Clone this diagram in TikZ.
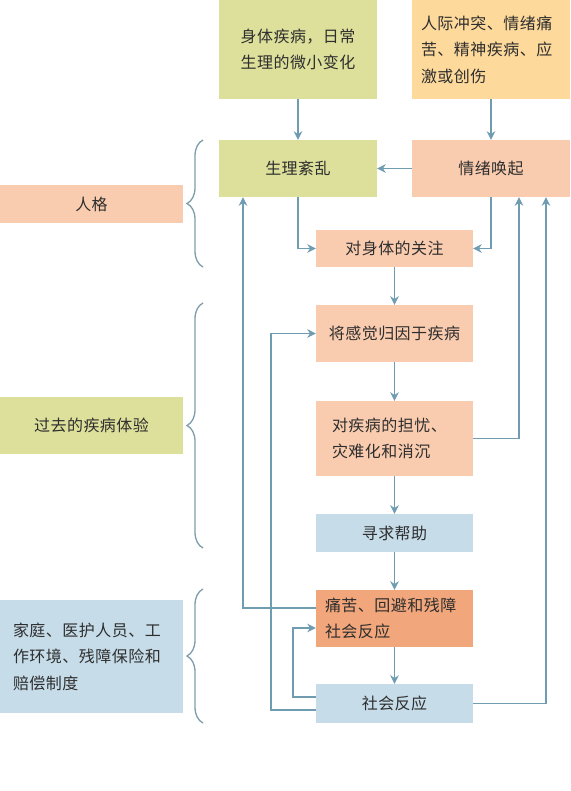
\documentclass[tikz,border=0pt]{standalone}
\usepackage{fontspec}
\setmainfont{Noto Sans CJK SC}[LetterSpace=3]
\usetikzlibrary{arrows.meta,calc,decorations.pathreplacing}
\definecolor{cgreen}{HTML}{DDE09B}
\definecolor{cyellow}{HTML}{FDD99C}
\definecolor{csalmon}{HTML}{F9CCAF}
\definecolor{corange}{HTML}{F2A67B}
\definecolor{cblue}{HTML}{C6DCE9}
\definecolor{cline}{HTML}{6F9CB0}
\definecolor{cbrace}{HTML}{7E9DAB}
\definecolor{ctext}{HTML}{2E2E2E}
\begin{document}
\begin{tikzpicture}[x=1pt,y=-1pt,
  box/.style={draw=none,inner sep=0pt,font=\fontsize{16}{26.5}\selectfont,text=ctext,align=center},
  midbox/.style={box,minimum width=157,minimum height=#1},
  leftbox/.style={box,minimum width=183,minimum height=#1},
  arr/.style={draw=cline,line width=1.7pt,-{Stealth[length=8.5pt,width=8.5pt]}},
  bracestyle/.style={draw=cbrace,line width=1.3pt,decorate,decoration={brace,amplitude=16pt}}
]
\fill[white] (0,0) rectangle (570,791);
\useasboundingbox (0,0) rectangle (570,791);

% top boxes
\node[box,fill=cgreen,minimum width=158,minimum height=99] (A) at (298,49.5) {身体疾病，日常\\生理的微小变化};
\node[box,fill=cyellow,text width=140,inner xsep=9,minimum height=99,align=left] (B) at (491,49.5) {\raisebox{-3pt}{\parbox{140pt}{人际冲突、情绪痛\\苦、精神疾病、应\\激或创伤}}};

\node[box,fill=cgreen,minimum width=158,minimum height=57] (C) at (298,168.5) {生理紊乱};
\node[box,fill=csalmon,minimum width=158,minimum height=57] (D) at (491,168.5) {情绪唤起};

% middle column
\node[midbox=37,fill=csalmon] (E) at (394.5,248.5) {对身体的关注};
\node[midbox=57,fill=csalmon] (F) at (394.5,333.5) {将感觉归因于疾病};
\node[box,fill=csalmon,text width=125,inner xsep=16,minimum height=75,align=left] (G) at (394.5,438.5) {对疾病的担忧、\\灾难化和消沉};
\node[midbox=38,fill=cblue] (H) at (394.5,533) {寻求帮助};
\node[box,fill=corange,text width=139,inner xsep=9,minimum height=57,align=left] (I) at (394.5,618.5) {痛苦、回避和残障\\社会反应};
\node[midbox=39,fill=cblue] (J) at (394.5,703.5) {社会反应};

% left column
\node[leftbox=38,fill=csalmon] (P) at (91.5,204) {人格};
\node[leftbox=57,fill=cgreen] (Q) at (91.5,425.5) {过去的疾病体验};
\node[box,fill=cblue,text width=157,inner xsep=13,minimum height=113,align=left] (R) at (91.5,656.5) {家庭、医护人员、工\\作环境、残障保险和\\赔偿制度};

% braces
\coordinate (b1b) at (203,267); \coordinate (b1t) at (203,140);
\coordinate (b2b) at (203,548); \coordinate (b2t) at (203,303);
\coordinate (b3b) at (203,723); \coordinate (b3t) at (203,589);
\draw[bracestyle] (b1b) -- (b1t);
\draw[bracestyle] (b2b) -- (b2t);
\draw[bracestyle] (b3b) -- (b3t);

% main flow
\draw[arr] (A) -- (C);
\draw[arr] (B) -- (D);
\draw[arr] (D) -- (C);
\draw[arr] (C) |- (E);
\draw[arr] (D) |- (E);
\draw[arr] (E) -- (F);
\draw[arr] (F) -- (G);
\draw[arr] (G) -- (H);
\draw[arr] (H) -- (I);
\draw[arr] (I) -- (J);

% feedback loops
\draw[arr] (G.east) -| ($(D.south)+(28,0)$);
\draw[arr] (J.east) -| ($(D.south)+(55,0)$);
\draw[arr] ($(I.west)+(0,-10.5)$) -| ($(C.south)+(-55,0)$);
\draw[arr] ($(J.west)+(0,-6.5)$) -- ++(-23,0) |- ($(I.west)+(0,9.5)$);
\draw[arr] ($(J.west)+(0,6.5)$) -- ++(-45,0) |- (F.west);
\end{tikzpicture}
\end{document}
